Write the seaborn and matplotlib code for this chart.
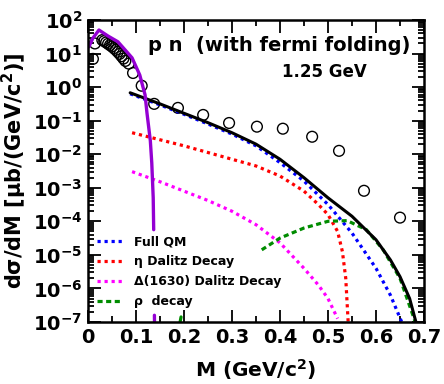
"""Dielectron invariant-mass spectrum, p n at 1.25 GeV, redrawn with seaborn."""
import numpy as np
import pandas as pd
import matplotlib
matplotlib.use("Agg")
import matplotlib.pyplot as plt
import seaborn as sns
from matplotlib.ticker import MultipleLocator, LogLocator, NullFormatter

# data points (open circles)
data_m = [0.0104, 0.0146, 0.030, 0.034, 0.038, 0.042, 0.046, 0.050, 0.054, 0.058,
          0.062, 0.066, 0.070, 0.074, 0.078, 0.085, 0.094, 0.112, 0.138, 0.1875,
          0.24, 0.294, 0.352, 0.406, 0.467, 0.523, 0.575, 0.65]
data_log = [0.84, 1.30, 1.40, 1.37, 1.33, 1.29, 1.25, 1.21, 1.16, 1.11,
            1.05, 0.99, 0.92, 0.85, 0.78, 0.70, 0.42, 0.04, -0.50, -0.62,
            -0.83, -1.07, -1.18, -1.24, -1.48, -1.90, -3.09, -3.89]

# total (black)
tot_m = [0.088, 0.15, 0.2, 0.25, 0.3, 0.35, 0.4, 0.45, 0.5, 0.55, 0.6, 0.63, 0.65, 0.67, 0.685]
tot_log = [-0.17, -0.5, -0.78, -1.06, -1.36, -1.7, -2.15, -2.7, -3.3, -3.85, -4.55, -5.15, -5.65, -6.3, -7.1]

# Full QM (blue)
qm_m = [0.088, 0.15, 0.2, 0.25, 0.3, 0.35, 0.4, 0.45, 0.5, 0.55, 0.6, 0.63, 0.655]
qm_log = [-0.2, -0.53, -0.81, -1.1, -1.4, -1.75, -2.25, -2.8, -3.5, -4.35, -5.4, -6.2, -7.05]

# eta Dalitz (red)
eta_m = [0.092, 0.15, 0.2, 0.25, 0.3, 0.35, 0.4, 0.45, 0.48, 0.5, 0.52, 0.53, 0.537, 0.542]
eta_log = [-1.36, -1.57, -1.75, -1.95, -2.15, -2.35, -2.65, -3.1, -3.5, -3.8, -4.3, -4.9, -5.7, -7.0]

# Delta(1630) Dalitz (magenta)
dlt_m = [0.092, 0.15, 0.2, 0.25, 0.3, 0.35, 0.4, 0.45, 0.48, 0.5, 0.52]
dlt_log = [-2.52, -2.82, -3.1, -3.38, -3.7, -4.1, -4.64, -5.4, -5.9, -6.3, -6.9]

# rho decay (green)
rho_m = [0.362, 0.4, 0.45, 0.5, 0.54, 0.58, 0.615, 0.65, 0.68, 0.69]
rho_log = [-4.85, -4.5, -4.2, -4.0, -3.98, -4.25, -4.85, -5.7, -6.93, -7.3]
rho_stub_m = [0.188, 0.194]
rho_stub_log = [-7.3, -6.85]

# pi0 Dalitz (purple)
pi_m = [0.002, 0.0104, 0.023, 0.042, 0.0625, 0.081, 0.092, 0.108, 0.119, 0.123, 0.13, 0.133, 0.136, 0.137]
pi_log = [1.2, 1.46, 1.70, 1.52, 1.35, 1.05, 0.87, 0.36, -0.23, -0.77, -1.6, -2.26, -3.3, -4.25]
pi_stub_m = [0.1385, 0.139]
pi_stub_log = [-6.8, -7.3]


def frame(m, lg):
    return pd.DataFrame({"M": m, "y": np.power(10.0, lg)})


sns.set_theme(style="ticks")
plt.rcParams["font.family"] = ["DejaVu Sans"]
plt.rcParams["font.weight"] = "bold"
plt.rcParams["text.color"] = "black"
plt.rcParams["axes.labelcolor"] = "black"
plt.rcParams["xtick.color"] = "black"
plt.rcParams["ytick.color"] = "black"
plt.rcParams["mathtext.fontset"] = "custom"
plt.rcParams["mathtext.default"] = "bf"
plt.rcParams["mathtext.bf"] = "DejaVu Sans:bold"
plt.rcParams["mathtext.rm"] = "DejaVu Sans:bold"

fig = plt.figure(figsize=(4.44, 3.84), dpi=100)
ax = fig.add_axes([0.198, 0.1615, 0.757, 0.7865])

dots = (1, 1.2)
sns.lineplot(data=frame(qm_m, qm_log), x="M", y="y", ax=ax, color="#0000ff",
             lw=2.3, label="Full QM").lines[-1].set_dashes(dots)
sns.lineplot(data=frame(eta_m, eta_log), x="M", y="y", ax=ax, color="#ff0000",
             lw=2.3, label="\u03b7 Dalitz Decay").lines[-1].set_dashes(dots)
sns.lineplot(data=frame(dlt_m, dlt_log), x="M", y="y", ax=ax, color="#ff00ff",
             lw=2.3, label="\u0394(1630) Dalitz Decay").lines[-1].set_dashes(dots)
sns.lineplot(data=frame(rho_m, rho_log), x="M", y="y", ax=ax, color="#008c00",
             lw=2.3, label="\u03c1  decay").lines[-1].set_dashes((1.6, 1.1))
sns.lineplot(data=frame(rho_stub_m, rho_stub_log), x="M", y="y", ax=ax,
             color="#008c00", lw=2.3)
sns.lineplot(data=frame(tot_m, tot_log), x="M", y="y", ax=ax, color="black", lw=2.2)
sns.lineplot(data=frame(pi_m, pi_log), x="M", y="y", ax=ax, color="#9400d3", lw=2.4)
sns.lineplot(data=frame(pi_stub_m, pi_stub_log), x="M", y="y", ax=ax,
             color="#9400d3", lw=2.4)
sns.scatterplot(data=frame(data_m, data_log), x="M", y="y", ax=ax, marker="o",
                s=60, facecolor="none", edgecolor="black", linewidth=1.0)

ax.set_yscale("log")
ax.set_xlim(0, 0.7)
ax.set_ylim(1e-7, 1e2)
ax.xaxis.set_minor_locator(MultipleLocator(0.05))
ax.yaxis.set_major_locator(LogLocator(base=10, numticks=20))
ax.yaxis.set_minor_locator(LogLocator(base=10, subs=np.arange(2, 10), numticks=20))
ax.yaxis.set_minor_formatter(NullFormatter())
ax.set_xticks(np.arange(0, 0.71, 0.1))
ax.set_xticklabels(["0", "0.1", "0.2", "0.3", "0.4", "0.5", "0.6", "0.7"])

ax.tick_params(which="both", direction="in", top=True, right=True, colors="black",
               labelsize=14, width=1.3, pad=4)
ax.tick_params(which="major", length=9)
ax.tick_params(which="minor", length=4.5)
for sp in ax.spines.values():
    sp.set_linewidth(1.8)
    sp.set_color("black")

ax.set_xlabel("M (GeV/c$^2$)", fontsize=14.5, fontweight="bold")
ax.set_ylabel("d\u03c3/dM [\u03bcb/(GeV/c$^2$)]", fontsize=15, fontweight="bold")
ax.yaxis.set_label_coords(-0.175, 0.5)
ax.xaxis.set_label_coords(0.5, -0.115)

ax.text(0.179, 0.917, "p n  (with fermi folding)", transform=ax.transAxes,
        fontsize=14, fontweight="bold", ha="left", va="center")
ax.text(0.705, 0.828, "1.25 GeV", transform=ax.transAxes,
        fontsize=12, fontweight="bold", ha="center", va="center")

leg = ax.legend(loc="upper left", bbox_to_anchor=(0.0, 0.315), frameon=False,
                fontsize=9, handlelength=2.0, handletextpad=1.0, labelspacing=0.55,
                borderaxespad=0.3)
for t in leg.get_texts():
    t.set_fontweight("bold")

fig.savefig("out.png", dpi=100)
